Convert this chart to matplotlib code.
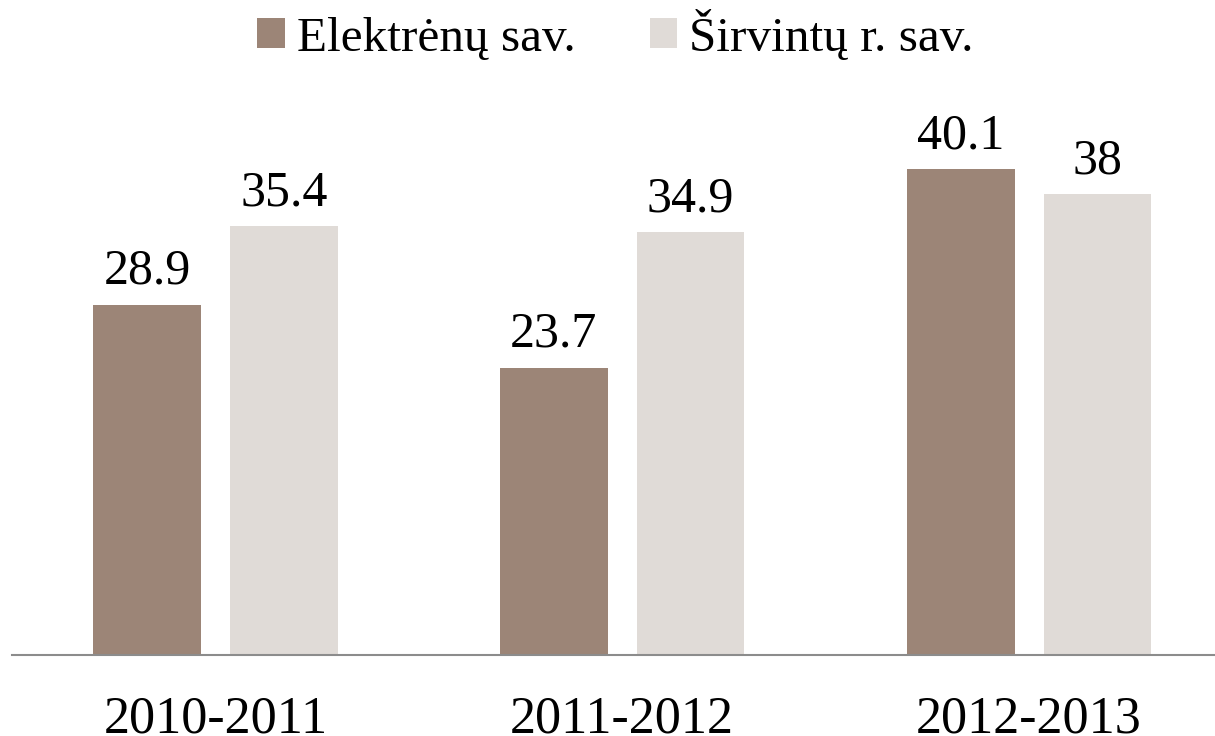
import matplotlib
matplotlib.use("Agg")
import matplotlib.pyplot as plt
import numpy as np

years = ["2010-2011", "2011-2012", "2012-2013"]
elektrenai = [28.9, 23.7, 40.1]
sirvintos = [35.4, 34.9, 38]
series_names = ["Elektrėnų sav.", "Širvintų r. sav."]

plt.rcParams['font.family'] = ['Liberation Serif', 'DejaVu Serif']

fig = plt.figure(figsize=(12.15, 7.36), dpi=100)
ax = fig.add_axes([12/1215, 1 - 655/736, 1 - 12/1215, 565/736])

x = np.arange(len(years))
w = 0.265
off = 0.168
b1 = ax.bar(x - off, elektrenai, w, color="#9c8577", label=series_names[0])
b2 = ax.bar(x + off, sirvintos, w, color="#e0dbd7", label=series_names[1])

for bars, vals in ((b1, elektrenai), (b2, sirvintos)):
    for r, v in zip(bars, vals):
        ax.annotate(f"{v:g}", (r.get_x() + r.get_width() / 2, v),
                    xytext=(0, 7), textcoords="offset points",
                    ha="center", va="bottom", fontsize=36)

ax.set_xlim(-0.5, 2.457)
ax.set_ylim(0, 46.6)
ax.set_xticks(x)
ax.set_xticklabels(years, fontsize=37.5)
ax.tick_params(axis="x", length=0, pad=29)
ax.set_yticks([])
for s in ("top", "right", "left"):
    ax.spines[s].set_visible(False)
ax.spines["bottom"].set_color("#8c8c8c")
ax.spines["bottom"].set_linewidth(1.5)

fig.legend(loc="center", bbox_to_anchor=(0.5066, 1 - 35/736), ncol=2, frameon=False,
           fontsize=35.5, handlelength=0.55, handleheight=0.55, handletextpad=0.25,
           columnspacing=1.5, borderpad=0)

fig.savefig("out.png", dpi=100)
